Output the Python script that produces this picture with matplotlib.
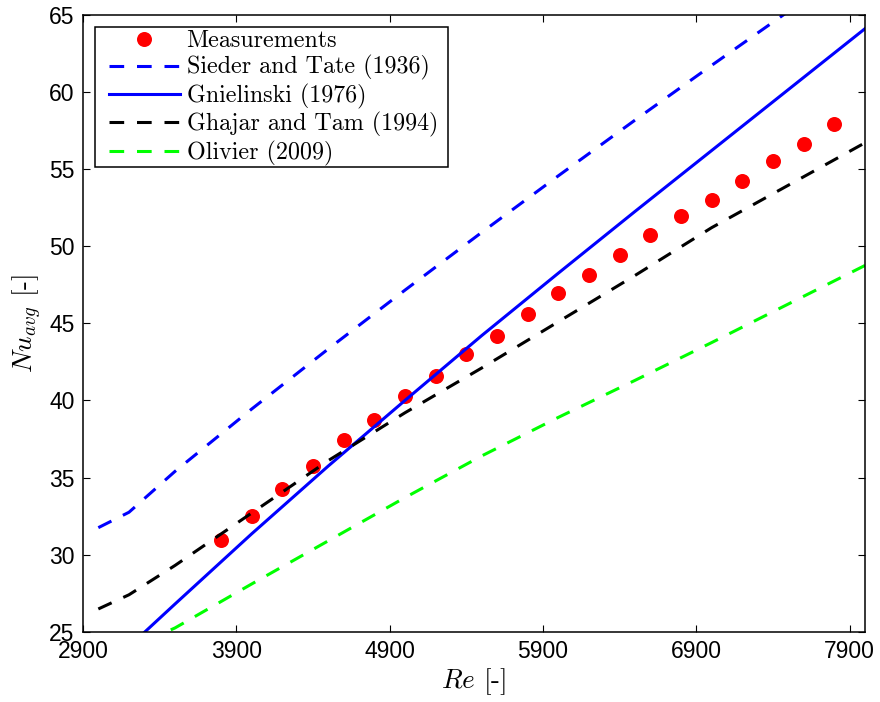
import matplotlib.pyplot as plt
from matplotlib.patches import Rectangle

plt.rcParams['font.family'] = 'Liberation Sans'
plt.rcParams['mathtext.fontset'] = 'cm'

# measured average Nusselt numbers
re_meas = [3800, 4000, 4200, 4400, 4600, 4800, 5000, 5200, 5400, 5600, 5800,
           6000, 6200, 6400, 6600, 6800, 7000, 7200, 7400, 7600, 7800]
nu_meas = [30.93, 32.51, 34.24, 35.73, 37.42, 38.72, 40.29, 41.61, 42.98, 44.18, 45.61,
           46.93, 48.12, 49.40, 50.71, 51.95, 53.00, 54.20, 55.49, 56.61, 57.89]

# correlations
re_st = [3000, 3200, 3500, 4000, 4500, 5000, 5500, 6000, 6500, 7000, 7500, 8000]
nu_st = [31.75, 32.75, 35.4, 39.44, 43.34, 47.15, 50.89, 54.56, 58.17, 61.72, 65.22, 68.7]

re_gn = [3000, 3500, 4000, 4500, 5000, 5500, 6000, 6500, 7000, 7500, 8000]
nu_gn = [22.2, 26.8, 31.35, 35.75, 40.0, 44.2, 48.25, 52.25, 56.2, 60.15, 64.1]

re_gt = [3000, 3200, 3500, 4000, 4500, 5000, 5500, 6000, 6500, 7000, 7500, 8000]
nu_gt = [26.48, 27.4, 29.3, 32.7, 36.1, 39.2, 42.1, 45.1, 48.1, 51.2, 53.95, 56.7]

re_ol = [3000, 3200, 3500, 4000, 4500, 5000, 5500, 6000, 6500, 7000, 7500, 8000]
nu_ol = [22.6, 23.9, 25.25, 28.1, 30.9, 33.7, 36.4, 38.9, 41.3, 43.75, 46.25, 48.75]

fig = plt.figure(figsize=(8.8, 7.02), dpi=100)
ax = fig.add_axes([0.0943, 0.100, 0.8887, 0.879])

lw = 2.2
dash = (4.8, 4.2)
ax.plot(re_meas, nu_meas, 'o', color='red', markersize=10.8, markeredgewidth=0,
        label='Measurements')
ax.plot(re_st, nu_st, '--', color='blue', linewidth=lw, dashes=dash,
        label='Sieder and Tate (1936)')
ax.plot(re_gn, nu_gn, '-', color='blue', linewidth=lw, label='Gnielinski (1976)')
ax.plot(re_gt, nu_gt, '--', color='black', linewidth=lw, dashes=dash,
        label='Ghajar and Tam (1994)')
ax.plot(re_ol, nu_ol, '--', color=(0, 1, 0), linewidth=lw, dashes=dash,
        label='Olivier (2009)')

ax.set_xlim(2900, 8000)
ax.set_ylim(25, 65)
ax.set_xticks([2900, 3900, 4900, 5900, 6900, 7900])
ax.set_yticks([25, 30, 35, 40, 45, 50, 55, 60, 65])
ax.tick_params(direction='in', length=5, width=0.8, labelsize=16.5, pad=6,
               top=True, right=True)
for s in ax.spines.values():
    s.set_linewidth(1.1)

ax.set_xlabel('$Re$ [-]', fontsize=19.5, family='cmr10', labelpad=2)
ax.set_ylabel('$Nu_{avg}$ [-]', fontsize=19.5, family='cmr10', labelpad=4)

# legend box drawn separately so the entries can sit with a wider left margin
box = Rectangle((0.0153, 0.7536), 0.4518, 0.2269, transform=ax.transAxes,
                facecolor='white', edgecolor='black', linewidth=1.1, zorder=4.9)
ax.add_patch(box)
leg = ax.legend(loc='upper left', bbox_to_anchor=(0.0332, 0.9755), numpoints=1,
                prop={'family': 'cmr10', 'size': 17.3},
                handlelength=2.95, handletextpad=0.28, labelspacing=0.14,
                borderaxespad=0, borderpad=0, frameon=False)

plt.savefig('out.png', dpi=100)
